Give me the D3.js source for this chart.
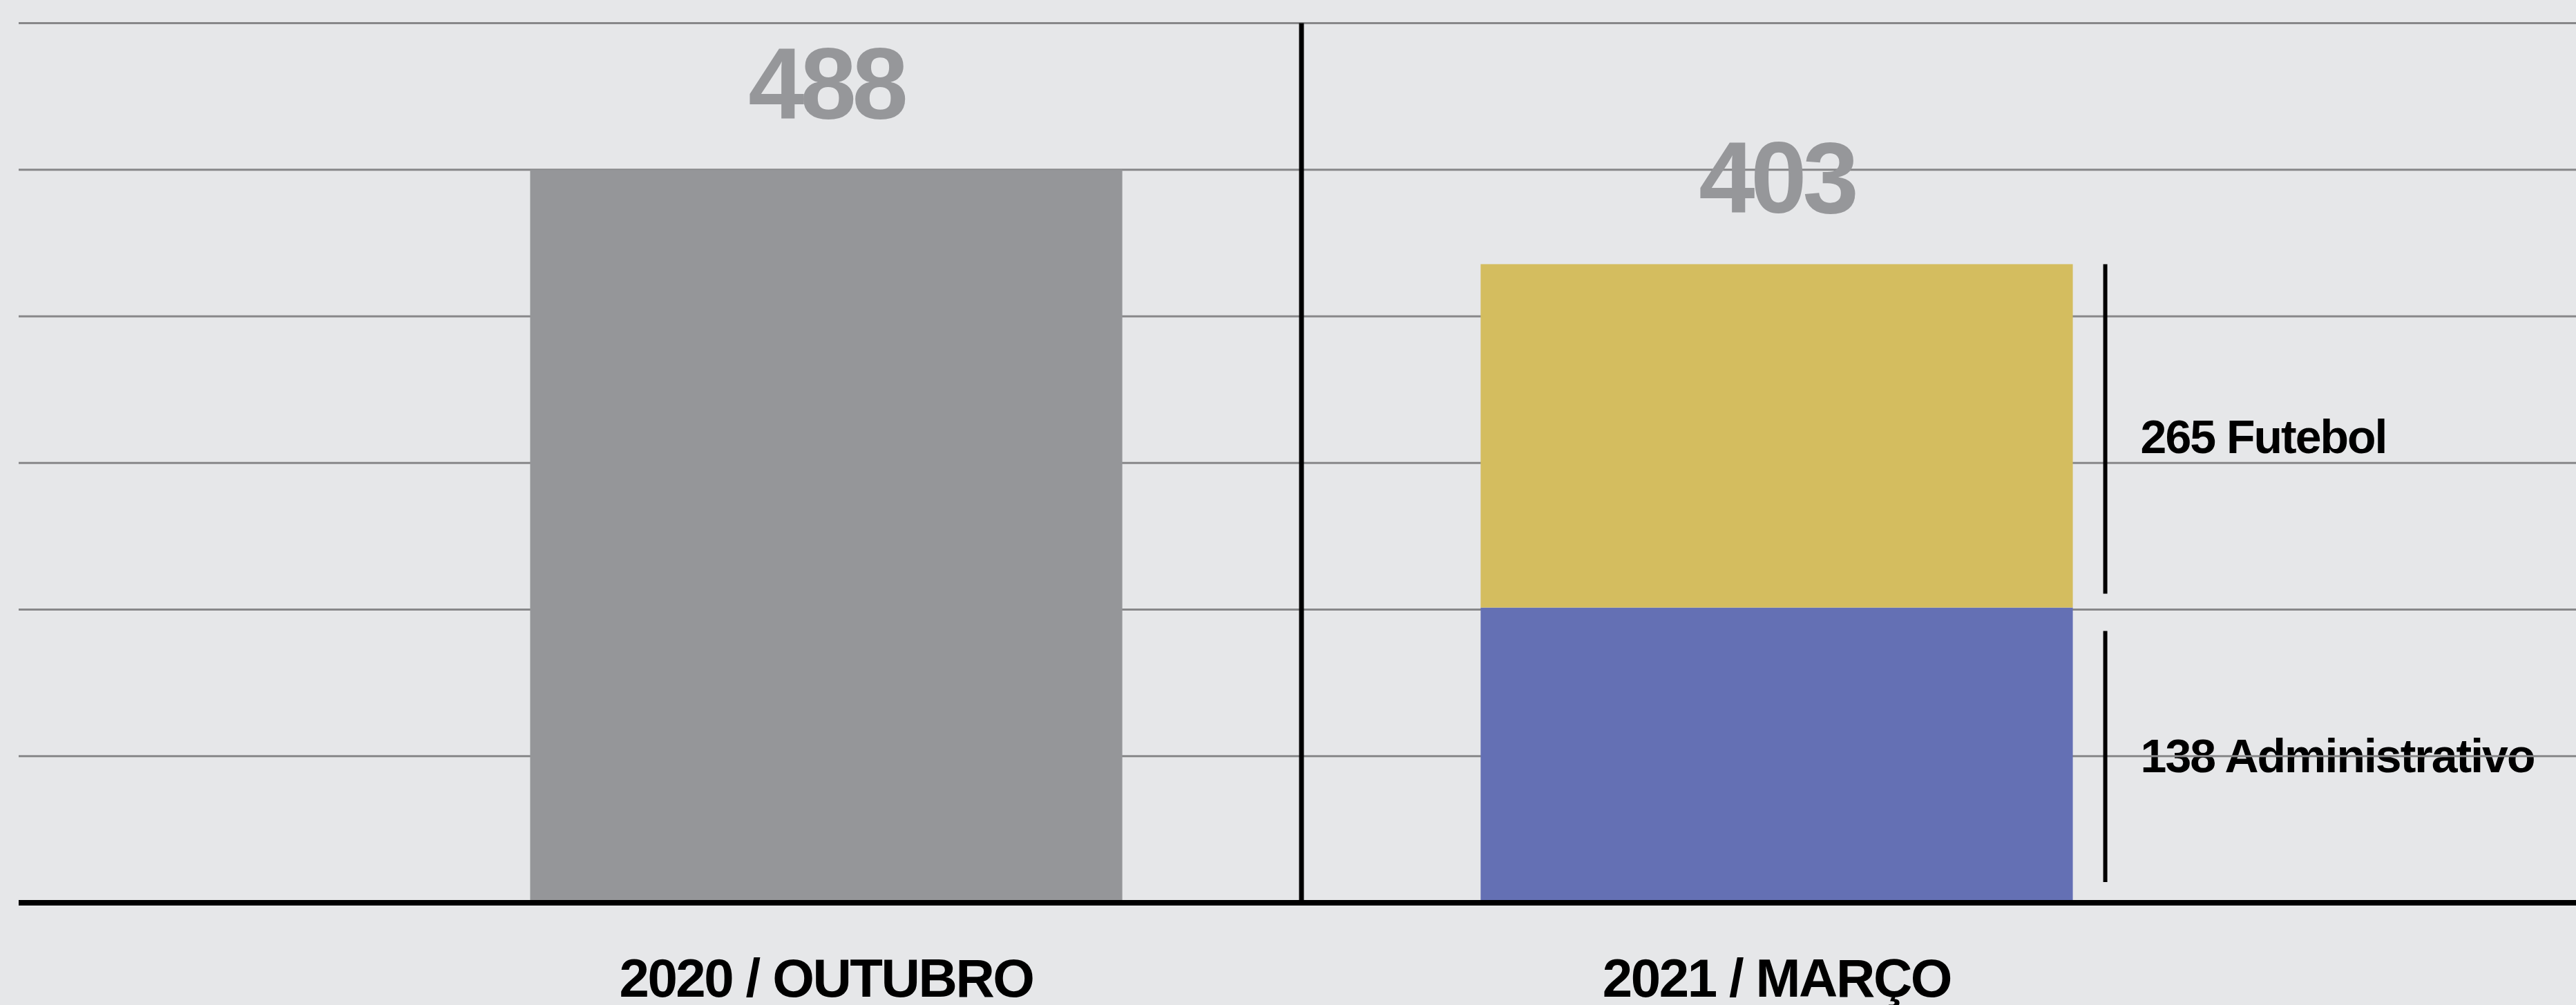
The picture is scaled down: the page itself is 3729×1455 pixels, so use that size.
<!DOCTYPE html>
<html>
<head>
<meta charset="utf-8">
<script src="https://cdn.jsdelivr.net/npm/d3@7"></script>
<style>
  html, body { margin: 0; padding: 0; background: #e6e7e9; }
  svg { display: block; }
  text { font-family: "Liberation Sans", Arial, Helvetica, sans-serif; font-weight: bold; }
</style>
</head>
<body>
<svg id="chart" width="3729" height="1455"></svg>
<script>
// data
const categories = ["2020 / OUTUBRO", "2021 / MARÇO"];
const totals = [488, 403];
const segmentNames = ["Administrativo", "Futebol"];
const adminValues = [null, 138];
const futebolValues = [null, 265];
const gridCount = 6;

const colors = {
    bg: "#e6e7e9",
    total: "#959699",
    Administrativo: "#6470b4",
    Futebol: "#d4bd5f",
    grid: "#878789",
    totalLabel: "#96979a"
};

const W = 3729, H = 1455;
const margin = { top: 23, left: 27, bottom: 148 };
const baseY = H - margin.bottom;

const svg = d3.select("#chart");
svg.append("rect").attr("width", W).attr("height", H).attr("fill", colors.bg);

// grid scale: evenly spaced guide lines
let gridScale = d3.scaleLinear()
    .domain([0, gridCount + 0.05])
    .range([baseY, margin.top]);

// the original is not drawn to a linear scale, a pow scale gets close
let yScale = d3.scalePow()
    .exponent(0.72)
    .domain([0, d3.max(totals)])
    .range([baseY, gridScale(5)]);

let xScale = d3.scaleBand()
    .domain(categories)
    .range([506, 3262])
    .paddingInner(0.377)
    .paddingOuter(0.19);

let bw = xScale.bandwidth();

// build stacked rows for categories that have a breakdown
let rows = categories.map(function (c, i) {
    return { cat: c, total: totals[i], Administrativo: adminValues[i], Futebol: futebolValues[i] };
});
let stackedRows = rows.filter(d => d.Administrativo != null);
let stack = d3.stack().keys(segmentNames)(stackedRows);

// side labels (drawn under the grid like the original)
let bracketX = xScale(categories[1]) + bw + 47;
let labelG = svg.append("g");
stack.forEach(function (layer) {
    layer.forEach(function (d) {
        let top = yScale(d[1]), bottom = yScale(d[0]);
        labelG.append("text")
            .attr("x", bracketX + 51)
            .attr("y", (top + bottom) / 2)
            .attr("dy", "0.36em")
            .attr("font-size", 68)
            .attr("letter-spacing", -2)
            .attr("fill", "#000")
            .text(d.data[layer.key] + " " + layer.key);
    });
});

// gridlines
svg.append("g")
    .selectAll("line")
    .data(d3.range(1, gridCount + 1))
    .join("line")
    .attr("x1", margin.left)
    .attr("x2", W)
    .attr("y1", d => gridScale(d))
    .attr("y2", d => gridScale(d))
    .attr("stroke", colors.grid)
    .attr("stroke-width", 3);

// plain total bars
svg.append("g")
    .selectAll("rect")
    .data(rows.filter(d => d.Administrativo == null))
    .join("rect")
    .attr("x", d => xScale(d.cat))
    .attr("y", d => yScale(d.total))
    .attr("width", bw)
    .attr("height", d => baseY - yScale(d.total))
    .attr("fill", colors.total);

// stacked bars
svg.append("g")
    .selectAll("g")
    .data(stack)
    .join("g")
    .attr("fill", d => colors[d.key])
    .selectAll("rect")
    .data(d => d)
    .join("rect")
    .attr("x", d => xScale(d.data.cat))
    .attr("y", d => yScale(d[1]))
    .attr("width", bw)
    .attr("height", d => yScale(d[0]) - yScale(d[1]));

// brackets next to the stacked segments
let insets = { Futebol: [0, 20], Administrativo: [34, 30] };
stack.forEach(function (layer) {
    layer.forEach(function (d) {
        svg.append("line")
            .attr("x1", bracketX)
            .attr("x2", bracketX)
            .attr("y1", yScale(d[1]) + insets[layer.key][0])
            .attr("y2", yScale(d[0]) - insets[layer.key][1])
            .attr("stroke", "#000")
            .attr("stroke-width", 6);
    });
});

// totals above bars
svg.append("g")
    .selectAll("text")
    .data(rows)
    .join("text")
    .attr("x", d => xScale(d.cat) + bw / 2)
    .attr("y", d => yScale(d.total) - 74)
    .attr("text-anchor", "middle")
    .attr("font-size", 146)
    .attr("letter-spacing", -6)
    .attr("fill", colors.totalLabel)
    .text(d => d.total);

// divider between the two periods
let step = xScale.step();
let divX = xScale(categories[0]) + bw + (step - bw) / 2;
svg.append("line")
    .attr("x1", divX)
    .attr("x2", divX)
    .attr("y1", gridScale(gridCount))
    .attr("y2", baseY)
    .attr("stroke", "#000")
    .attr("stroke-width", 7);

// category axis
let xAxis = svg.append("g")
    .attr("transform", "translate(0," + baseY + ")")
    .call(d3.axisBottom(xScale).tickSize(0).tickPadding(0));
xAxis.select(".domain").remove();
xAxis.attr("font-family", null).attr("font-size", null);
xAxis.selectAll("text")
    .attr("y", 136)
    .attr("dy", null)
    .attr("font-size", 78)
    .attr("letter-spacing", -2.4)
    .attr("fill", "#000");

// baseline
svg.append("line")
    .attr("x1", margin.left)
    .attr("x2", W)
    .attr("y1", baseY)
    .attr("y2", baseY)
    .attr("stroke", "#000")
    .attr("stroke-width", 8);
</script>
</body>
</html>
